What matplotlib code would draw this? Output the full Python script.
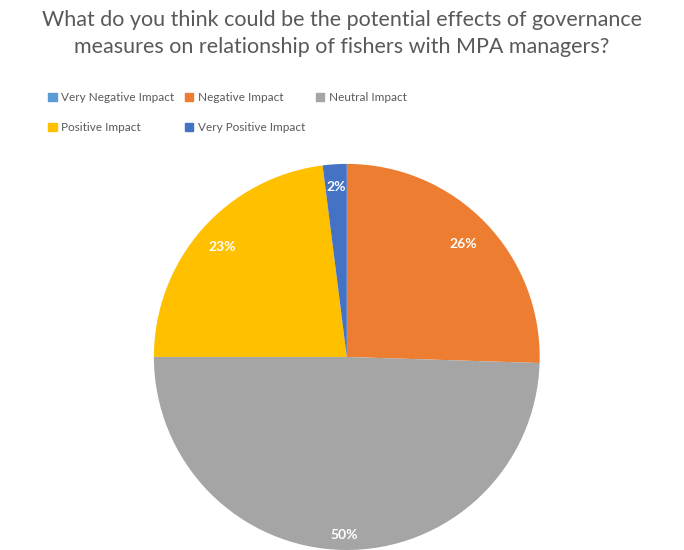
import numpy as np
from matplotlib import pyplot as plt
from matplotlib.patches import Patch

#------------------------------------------------------------------------------
# DATA
#------------------------------------------------------------------------------
title = ("What do you think could be the potential effects of governance\n"
         "measures on relationship of fishers with MPA managers?")
categories = ["Very Negative Impact", "Negative Impact", "Neutral Impact",
              "Positive Impact", "Very Positive Impact"]
shares = [0, 25.5, 49.5, 23, 2]
colors = ["#5B9BD5", "#ED7D31", "#A5A5A5", "#FFC000", "#4472C4"]

#------------------------------------------------------------------------------
# MAIN
#------------------------------------------------------------------------------
def main():
    plt.rcParams['font.family'] = ['Lato', 'DejaVu Sans']

    fig = plt.figure(figsize=(6.84, 5.5), dpi=100)
    fig.text(0.5, 0.982, title, ha="center", va="top", fontsize=15.5,
             color="#595959", linespacing=1.45)

    ax = fig.add_axes([0.225, 0.0, 0.564, 0.702])
    wedges, _ = ax.pie(shares, colors=colors, startangle=90,
                       counterclock=False, radius=1.0)
    ax.set_xlim(-1, 1)
    ax.set_ylim(-1, 1)
    ax.set_aspect("auto")

    # label distances per slice (Excel best fit look)
    dists = [0.8, 0.84, 0.92, 0.86, 0.88]
    for w, v, d in zip(wedges, shares, dists):
        if v == 0:
            continue
        ang = np.radians((w.theta1 + w.theta2) / 2)
        ax.text(d * np.cos(ang), d * np.sin(ang), f"{v:.0f}%", ha="center",
                va="center", color="white", fontsize=10, fontweight="bold")

    handles = [Patch(color=c) for c in colors]
    order = [0, 3, 1, 4, 2]
    fig.legend([handles[i] for i in order], [categories[i] for i in order],
               loc="upper left", bbox_to_anchor=(0.055, 0.852), ncol=3,
               frameon=False, fontsize=8.5, labelcolor="#595959",
               handlelength=0.7, handleheight=0.7, handletextpad=0.4,
               columnspacing=0.9, labelspacing=1.6)

    fig.savefig("out.png", dpi=100)

#------------------------------------------------------------------------------
if __name__ == '__main__':
    main()
